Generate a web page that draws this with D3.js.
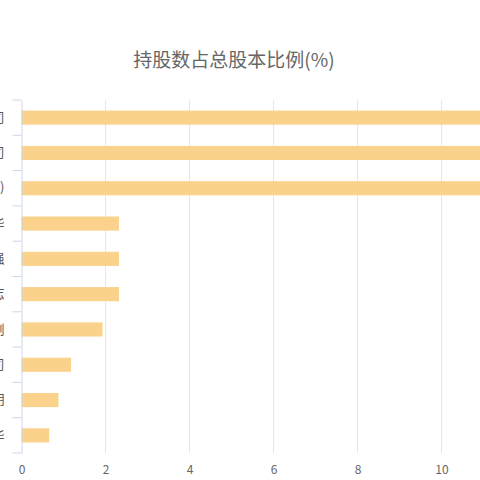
<!DOCTYPE html>
<html><head><meta charset="utf-8">
<script src="https://cdn.jsdelivr.net/npm/d3@7"></script>
<style>html,body{margin:0;padding:0;background:#fff;overflow:hidden}</style>
</head><body>
<svg id="c" width="480" height="480"></svg>
<script>
const titleText = "持股数占总股本比例(%)";
const categories = ["某某控股集团有限公司","某某投资有限公司","香港中央结算有限公司(代理人)","张华","李强","王志","陈刚","某某资产管理有限公司","刘明","周华"];
const values = [12.6, 12.3, 11.9, 2.32, 2.32, 2.32, 1.93, 1.18, 0.88, 0.66];
const xTicks = [0, 2, 4, 6, 8, 10, 12];

(function () {
const svg = d3.select("#c");
const font = "'Noto Sans CJK SC','Noto Sans',sans-serif";
const mLeft = 21.5, mTop = 100, mBottom = 453;
const x = d3.scaleLinear().domain([0, 12]).range([mLeft, mLeft + 42 * 12]);
const y = d3.scaleBand().domain(categories).range([mTop, mBottom]).paddingInner(0.6).paddingOuter(0.3);
const yb = d3.scaleBand().domain(categories).range([mTop, mBottom]);

svg.append("text").attr("x", 234).attr("y", 67).attr("text-anchor", "middle")
  .attr("font-family", font).attr("font-size", 19).attr("fill", "#666").text(titleText);

// grid lines
svg.append("g").selectAll("line").data(xTicks.filter(d => d > 0)).join("line")
  .attr("x1", d => x(d)).attr("x2", d => x(d)).attr("y1", mTop).attr("y2", mBottom)
  .attr("stroke", "#e6e6e6").attr("stroke-width", 1);

// bars
svg.append("g").selectAll("rect").data(categories).join("rect")
  .attr("x", x(0)).attr("y", d => y(d)).attr("height", y.bandwidth())
  .attr("width", (d, i) => x(values[i]) - x(0)).attr("fill", "#fad28c");

// y axis
const yAxis = d3.axisLeft(yb).tickSize(0).tickPadding(17);
const gy = svg.append("g").attr("transform", `translate(${mLeft},0)`).call(yAxis);
gy.select(".domain").attr("stroke", "#ccd6eb");
gy.selectAll("text").attr("font-family", font).attr("font-size", 13).attr("fill", "#555");
// boundary ticks
const bounds = categories.map(c => yb(c)).concat([mBottom]);
svg.append("g").selectAll("line").data(bounds).join("line")
  .attr("x1", mLeft - 9).attr("x2", mLeft).attr("y1", d => d).attr("y2", d => d)
  .attr("stroke", "#ccd6eb");

// x axis labels
const xAxis = d3.axisBottom(x).tickValues(xTicks).tickSize(0).tickPadding(12).tickFormat(d3.format("d"));
const gx = svg.append("g").attr("transform", `translate(0,${mBottom})`).call(xAxis);
gx.select(".domain").remove();
gx.selectAll("text").attr("font-family", font).attr("font-size", 12).attr("fill", "#666");
})();
</script>
</body></html>
